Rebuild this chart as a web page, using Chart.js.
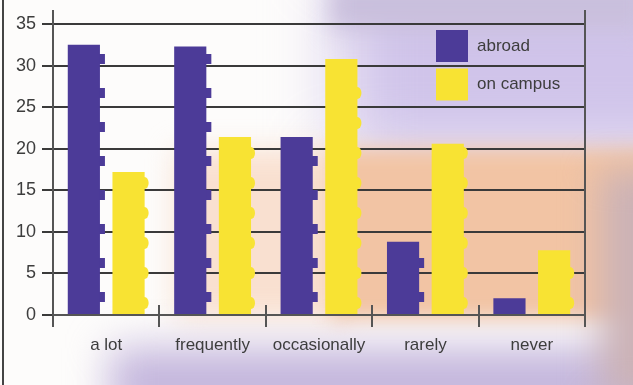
<!DOCTYPE html>
<html>
<head>
<meta charset="utf-8">
<script src="https://cdn.jsdelivr.net/npm/chart.js@4/dist/chart.umd.min.js"></script>
<style>
  html, body { margin: 0; padding: 0; }
  #wadah {
    position: relative;
    width: 633px;
    height: 385px;
    overflow: hidden;
    background: #fdfcfb;
  }
  /* latar foto blur, dibikin pake beberapa blok warna */
  .latar { position: absolute; }
  #latarUngu   { left: 340px; top: -40px; width: 380px; height: 200px; background: #d0c4ea; filter: blur(35px); }
  #latarAtas   { left: 330px; top: -20px; width: 320px; height: 50px; background: #c9bfdc; filter: blur(12px); }
  #latarPeach1 { left: 175px; top: 150px; width: 170px; height: 168px; background: #f9e0d0; filter: blur(14px); }
  #latarPeach2 { left: 330px; top: 148px; width: 340px; height: 172px; background: #f2c4a4; filter: blur(10px); }
  #latarBawah  { left: 110px; top: 348px; width: 620px; height: 70px; background: #c3b5dc; filter: blur(20px); }
  #latarKanan  { left: 600px; top: 170px; width: 80px; height: 230px; background: #cbb2b6; filter: blur(18px); }
  canvas { position: absolute; left: 0; top: 0; }
</style>
</head>
<body>
<div id="wadah">
  <div class="latar" id="latarUngu"></div>
  <div class="latar" id="latarAtas"></div>
  <div class="latar" id="latarPeach1"></div>
  <div class="latar" id="latarPeach2"></div>
  <div class="latar" id="latarBawah"></div>
  <div class="latar" id="latarKanan"></div>
  <canvas id="chartFrekuensi" width="633" height="385"></canvas>
</div>
<script>
// data dari survei, dipisah per array biar gampang diubah
const kategori = ['a lot', 'frequently', 'occasionally', 'rarely', 'never'];
const namaSeri = ['abroad', 'on campus'];
const nilaiAbroad = [32.5, 32.3, 21.4, 8.8, 2.0];
const nilaiKampus = [17.2, 21.4, 30.8, 20.6, 7.8];
const labelSumbuY = [0, 5, 10, 15, 20, 25, 30, 35];

const warnaUngu = '#4c3b98';
const warnaKuning = '#f8e333';
const warnaGaris = '#3a3a3a';
const warnaTeks = '#3d3d3d';
const hurufDasar = "'Liberation Sans', Arial, sans-serif";

// plugin buat hiasan: tonjolan di sisi kanan batang, garis bingkai, legend di dalam area chart
const pluginHiasan = {
  id: 'hiasan',
  beforeDatasetsDraw(chart) {
    // tonjolan kecil di kanan tiap batang, kayak tumpukan koin
    const ctx = chart.ctx;
    chart.data.datasets.forEach((ds, i) => {
      const meta = chart.getDatasetMeta(i);
      ctx.save();
      ctx.fillStyle = ds.backgroundColor;
      meta.data.forEach(batang => {
        const kanan = batang.x + batang.width / 2;
        const jarak = i === 0 ? 34 : 30;
        const mulai = i === 0 ? 12 : 6;
        for (let y = batang.base - mulai; y - 10 > batang.y + 2; y -= jarak) {
          ctx.beginPath();
          if (i === 0) {
            ctx.rect(kanan - 1, y - 10, 6, 10);
          } else {
            ctx.ellipse(kanan, y - 5, 4, 6, 0, 0, Math.PI * 2);
          }
          ctx.fill();
        }
      });
      ctx.restore();
    });
  },
  afterDraw(chart) {
    const ctx = chart.ctx;
    const area = chart.chartArea;
    const skalaX = chart.scales.x;
    ctx.save();
    ctx.strokeStyle = '#555';
    ctx.lineWidth = 2;
    // sumbu y dan garis kanan dipanjangin ke atas
    ctx.beginPath();
    ctx.moveTo(area.left, area.top - 14);
    ctx.lineTo(area.left, area.top);
    ctx.moveTo(area.right, area.top - 14);
    ctx.lineTo(area.right, area.bottom);
    // tick kategori tembus sedikit ke atas sumbu
    for (let k = 1; k < kategori.length; k++) {
      const x = Math.round((skalaX.getPixelForTick(k - 1) + skalaX.getPixelForTick(k)) / 2);
      ctx.moveTo(x, area.bottom - 10);
      ctx.lineTo(x, area.bottom);
    }
    ctx.stroke();

    // garis bingkai kiri
    ctx.strokeStyle = '#444';
    ctx.beginPath();
    ctx.moveTo(3, 0);
    ctx.lineTo(3, chart.height);
    ctx.stroke();

    // legend manual di pojok kanan atas area chart
    const kiriKotak = area.right - 149;
    const atasKotak = area.top + 6;
    ctx.font = '17px ' + hurufDasar;
    ctx.textBaseline = 'middle';
    chart.data.datasets.forEach((ds, i) => {
      const y = atasKotak + i * 38.5;
      ctx.fillStyle = ds.backgroundColor;
      ctx.fillRect(kiriKotak, y, 32, 32);
      ctx.fillStyle = warnaTeks;
      ctx.fillText(ds.label, kiriKotak + 41, y + 16);
    });
    ctx.restore();
  }
};

const konteks = document.getElementById('chartFrekuensi').getContext('2d');
new Chart(konteks, {
  type: 'bar',
  data: {
    labels: kategori,
    datasets: [
      { label: namaSeri[0], data: nilaiAbroad, backgroundColor: warnaUngu },
      { label: namaSeri[1], data: nilaiKampus, backgroundColor: warnaKuning }
    ]
  },
  options: {
    responsive: false,
    animation: false,
    devicePixelRatio: 1,
    categoryPercentage: 0.84,
    barPercentage: 0.72,
    layout: { padding: { top: 24, right: 48, left: 0, bottom: 0 } },
    plugins: {
      legend: { display: false },
      tooltip: { enabled: false }
    },
    scales: {
      x: {
        grid: { drawOnChartArea: false, tickLength: 12, color: '#555', lineWidth: 2, offset: true },
        border: { color: '#555', width: 2 },
        ticks: { font: { family: hurufDasar, size: 17 }, color: warnaTeks, padding: 8 },
        afterFit: skala => { skala.height = 70; }
      },
      y: {
        min: 0,
        max: 35,
        afterBuildTicks: skala => { skala.ticks = labelSumbuY.map(v => ({ value: v })); },
        grid: { color: warnaGaris, lineWidth: 2, tickLength: 11 },
        border: { color: '#555', width: 2 },
        ticks: { font: { family: hurufDasar, size: 18 }, color: warnaTeks, padding: 6 },
        afterFit: skala => { skala.width = 53; }
      }
    }
  },
  plugins: [pluginHiasan]
});
</script>
</body>
</html>
